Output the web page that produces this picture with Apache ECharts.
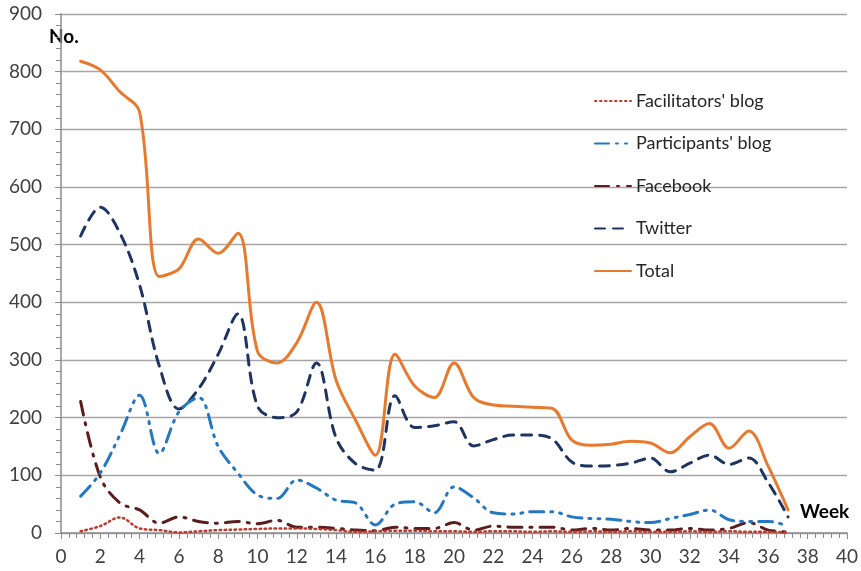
<!DOCTYPE html>
<html>
<head>
<meta charset="utf-8">
<script src="https://cdn.jsdelivr.net/npm/echarts@6/dist/echarts.min.js"></script>
<style>
html,body{margin:0;padding:0;background:#fff;}
#c{width:861px;height:571px;}
</style>
</head>
<body>
<div id="c"></div>
<script>
var weeks = [1,2,3,4,5,6,7,8,9,10,11,12,13,14,15,16,17,18,19,20,21,22,23,24,25,26,27,28,29,30,31,32,33,34,35,36,37];
var facilitators = [3,12,27,8,5,1,3,5,6,7,8,8,7,5,2,3,4,4,3,3,2,3,3,2,3,2,3,2,3,2,2,3,2,3,2,2,1];
var participants = [64,104,170,239,138,210,235,150,104,66,60,92,78,57,52,14,50,54,35,80,61,35,33,37,37,28,25,24,20,18,25,32,40,23,20,20,12];
var facebook = [228,97,52,40,17,28,20,17,20,16,22,10,10,8,5,4,10,8,8,18,5,12,10,10,10,5,8,5,8,5,5,8,5,8,18,5,2];
var twitter = [515,565,520,430,290,215,250,310,380,220,200,210,295,165,120,109,238,183,186,193,151,162,170,170,163,123,116,117,121,130,106,121,135,119,130,87,28];
var total = [818,803,765,730,445,458,510,485,520,315,295,330,400,265,195,135,310,255,235,295,235,222,220,218,216,161,152,154,159,156,139,167,190,147,177,115,40];
var yTicks = [0,100,200,300,400,500,600,700,800,900];
var xTicks = [0,2,4,6,8,10,12,14,16,18,20,22,24,26,28,30,32,34,36,38,40];

function pairs(arr){ return weeks.map(function(w,i){ return [w, arr[i]]; }); }

var font = 'Lato, "Open Sans", sans-serif';
var chart = echarts.init(document.getElementById('c'), null, {renderer:'canvas'});

function mk(name, data, color, width, dash, z){
  return {
    name: name, type: 'line', data: pairs(data), smooth: 0.35, symbol: 'none', z: z,
    lineStyle: {color: color, width: width, type: dash, cap: 'round'},
    itemStyle: {color: color}
  };
}

chart.setOption({
  animation: false,
  backgroundColor: '#ffffff',
  grid: {left: 61, right: 11, top: 14, bottom: 38, containLabel: false},
  xAxis: {
    type: 'value', min: 0, max: 40, interval: 2,
    axisLine: {show: true, lineStyle: {color: '#8c8c8c', width: 1.5}},
    axisTick: {show: true, length: 6, lineStyle: {color: '#8c8c8c'}},
    minorTick: {show: true, splitNumber: 5, length: 5, lineStyle: {color: '#8c8c8c'}},
    splitLine: {show: false},
    axisLabel: {color: '#404040', fontSize: 19, fontFamily: font, margin: 14,
      formatter: function(v){ return xTicks.indexOf(v) >= 0 ? String(v) : ''; }}
  },
  yAxis: {
    type: 'value', min: 0, max: 900, interval: 100,
    axisLine: {show: true, lineStyle: {color: '#8c8c8c', width: 1.5}},
    axisTick: {show: true, length: 6, lineStyle: {color: '#8c8c8c'}},
    minorTick: {show: true, splitNumber: 5, length: 5, lineStyle: {color: '#8c8c8c'}},
    splitLine: {show: true, lineStyle: {color: '#a6a6a6', width: 1.3}},
    axisLabel: {color: '#404040', fontSize: 19, fontFamily: font, margin: 19,
      formatter: function(v){ return yTicks.indexOf(v) >= 0 ? String(v) : ''; }}
  },
  legend: {
    orient: 'vertical', left: 589, top: 87, itemWidth: 36, itemHeight: 20, itemGap: 24.5,
    itemStyle: {opacity: 0},
    textStyle: {color: '#262626', fontSize: 18, fontFamily: font},
    data: ["Facilitators' blog", "Participants' blog", 'Facebook', 'Twitter', 'Total']
  },
  graphic: [
    {type: 'text', left: 49, top: 27, style: {text: 'No.', fontSize: 19, fontWeight: 'bold', fontFamily: font, fill: '#000'}},
    {type: 'text', left: 800, top: 502, style: {text: 'Week', fontSize: 19, fontWeight: 'bold', fontFamily: font, fill: '#000'}}
  ],
  series: [
    mk("Facilitators' blog", facilitators, '#c0392b', 2.5, [1.5, 3.5], 5),
    mk("Participants' blog", participants, '#2477c0', 3, [14, 7, 2, 7, 2, 7], 4),
    mk('Facebook', facebook, '#5a1e1e', 3, [14, 8, 2, 8], 3),
    mk('Twitter', twitter, '#1f3560', 3, [10, 8], 2),
    mk('Total', total, '#e87a2f', 3, 'solid', 1)
  ]
});
</script>
</body>
</html>
